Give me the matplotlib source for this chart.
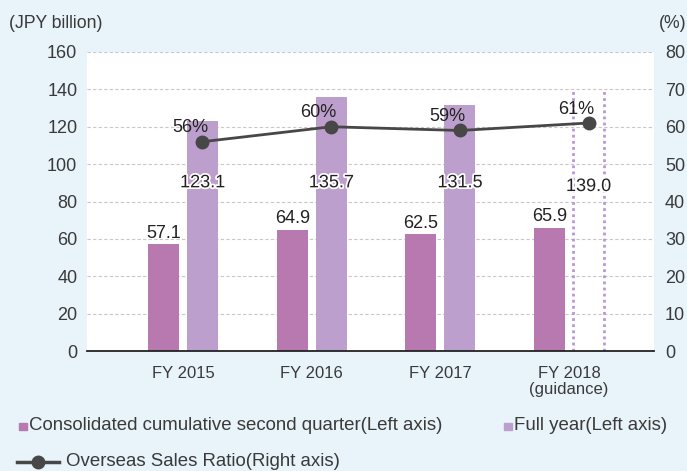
import matplotlib
matplotlib.use("Agg")
import matplotlib.pyplot as plt
import matplotlib.patheffects as pe
from matplotlib.lines import Line2D
from matplotlib.patches import Rectangle

plt.rcParams['font.family'] = ['Liberation Sans', 'DejaVu Sans']

years = ["FY 2015", "FY 2016", "FY 2017", "FY 2018\n(guidance)"]
q2_sales = [57.1, 64.9, 62.5, 65.9]
full_year = [123.1, 135.7, 131.5, 139.0]
overseas_ratio = [56, 60, 59, 61]

bg = "#e8f3fa"
c_q2 = "#b878b0"
c_full = "#bc9fcc"
c_line = "#474747"
c_text = "#3a3a3a"

fig = plt.figure(figsize=(6.87, 4.71), dpi=100, facecolor=bg)
ax = fig.add_axes([87/687, 1-351/471, (654-87)/687, (351-52)/471])
ax.set_facecolor("white")
ax2 = ax.twinx()

x = list(range(len(years)))
w = 0.241
off = 0.1515

ax.bar([i - off for i in x], q2_sales, width=w, color=c_q2, zorder=2)
ax.bar([i + off for i in x[:3]], full_year[:3], width=w, color=c_full, zorder=2)
# guidance bar: dotted sides only
gb = ax.bar(x[3] + off, full_year[3], width=w, fill=False, linewidth=0, zorder=2)[0]
ax.vlines([gb.get_x(), gb.get_x() + gb.get_width()], 0, gb.get_height(),
          colors="#bb95d8", linestyles=(0, (1, 1.2)), linewidth=2, zorder=2)

for i, v in enumerate(q2_sales):
    ax.annotate(f"{v:.1f}", (i - off, v), xytext=(0, 8), textcoords="offset points",
                ha="center", va="center", fontsize=13, color="#222222")
for i, v in enumerate(full_year):
    t = ax.text(i + off, 90 if i < 3 else 88, f"{v:.1f}", ha="center", va="center",
                fontsize=13, color="#222222")
    t.set_path_effects([pe.withStroke(linewidth=2.5, foreground="white")])

ax2.plot([i + off for i in x], overseas_ratio, color=c_line, linewidth=2,
         marker="o", markersize=9, zorder=5)
for i, v in enumerate(overseas_ratio):
    ax2.annotate(f"{v}%", (i + off, v), xytext=(-9, 10), textcoords="offset points",
                 ha="center", va="center", fontsize=13, color="#222222")

ax.set_xlim(-0.746, 3.66)
ax.set_ylim(0, 160)
ax2.set_ylim(0, 80)
ax.set_yticks(range(0, 161, 20))
ax2.set_yticks(range(0, 81, 10))
ax.set_xticks(x)
ax.set_xticklabels(years, linespacing=1.1)

ax.grid(axis="y", color="#c8c8c8", linestyle=(0, (3, 2)), linewidth=0.8, zorder=0)
ax.set_axisbelow(True)

for a in (ax, ax2):
    for s in a.spines.values():
        s.set_visible(False)
    a.tick_params(length=0, labelsize=13, colors=c_text)
ax.tick_params(axis="x", labelsize=12)
ax.spines["bottom"].set_visible(True)
ax.spines["bottom"].set_color("#222222")
ax.spines["bottom"].set_linewidth(1.3)
ax.tick_params(axis="y", pad=7)
ax.tick_params(axis="x", pad=11)
ax2.tick_params(axis="y", pad=8)
ax.set_zorder(1)
ax2.set_zorder(2)
ax2.patch.set_visible(False)

fig.text(9/687, 1-24/471, "(JPY billion)", fontsize=12.7, color=c_text, va="center")
fig.text(686/687, 1-24/471, "(%)", fontsize=12.7, color=c_text, va="center", ha="right")

# legend drawn by hand
fig.patches.append(Rectangle((19/687, 1-430/471), 8/687, 7/471, color=c_q2,
                             transform=fig.transFigure, figure=fig))
fig.text(29/687, 1-425/471, "Consolidated cumulative second quarter(Left axis)",
         fontsize=13.4, color=c_text, va="center")
fig.patches.append(Rectangle((504/687, 1-430/471), 8/687, 7/471, color=c_full,
                             transform=fig.transFigure, figure=fig))
fig.text(514/687, 1-425/471, "Full year(Left axis)", fontsize=13.4, color=c_text, va="center")
fig.lines.append(Line2D([17/687, 59/687], [1-462/471, 1-462/471], color=c_line,
                        linewidth=2.5, transform=fig.transFigure, figure=fig))
fig.lines.append(Line2D([38/687], [1-462/471], color=c_line, marker="o", markersize=9,
                        transform=fig.transFigure, figure=fig))
fig.text(66/687, 1-462/471, "Overseas Sales Ratio(Right axis)", fontsize=13.4,
         color=c_text, va="center")

fig.savefig("out.png", dpi=100, facecolor=bg)
